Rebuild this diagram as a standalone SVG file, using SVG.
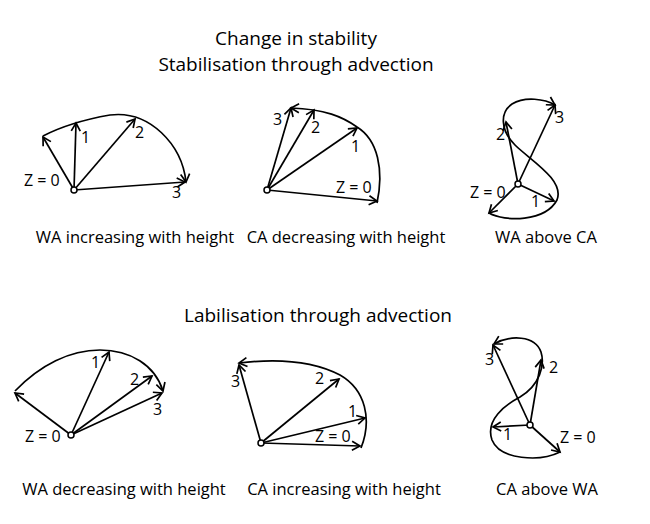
<svg xmlns="http://www.w3.org/2000/svg" width="650" height="524" viewBox="0 0 650 524">
<style>
.t{font-family:"Open Sans","Liberation Sans",sans-serif;fill:#000}
.title{font-size:19px;text-anchor:middle}
.cap{font-size:16.5px;text-anchor:middle}
.lab{font-size:16px}
.v{fill:none;stroke:#000;stroke-width:1.7;marker-end:url(#ah)}
.o{fill:#fff;stroke:#000;stroke-width:1.5}
</style>
<defs>
<marker id="ah" markerUnits="userSpaceOnUse" markerWidth="12" markerHeight="12" refX="9" refY="5" orient="auto" overflow="visible">
<path d="M1,0.5 L9,5 L1,9.5" fill="none" stroke="#000" stroke-width="1.7"/>
</marker>
</defs>
<rect width="650" height="524" fill="#fff"/>
<g id="titles">
<text class="t title" x="296" y="45">Change in stability</text>
<text class="t title" x="296" y="71">Stabilisation through advection</text>
<text class="t title" x="318" y="322">Labilisation through advection</text>
</g>
<g id="connectors">
<!-- D1 -->
<path class="v" d="M43,136 Q70,122 110,115 C150,110 182,145 186,182"/>
<line class="v" x1="74" y1="190" x2="43" y2="137"/>
<line class="v" x1="74" y1="190" x2="76" y2="123"/>
<line class="v" x1="74" y1="190" x2="135" y2="119"/>
<line class="v" x1="74" y1="190" x2="185" y2="182"/>
<!-- D2 -->
<path class="v" d="M377,203 C384,170 378,140 357,127 C343,117 325,109 291,108"/>
<line class="v" x1="267" y1="190" x2="377" y2="201"/>
<line class="v" x1="267" y1="190" x2="357" y2="128"/>
<line class="v" x1="267" y1="190" x2="314" y2="110"/>
<line class="v" x1="267" y1="190" x2="291" y2="108"/>
<!-- D3 -->
<path class="v" d="M489,213 C505,222 545,222 557,200 C565,180 530,160 515,145 C500,130 500,112 512,104 C525,96 545,99 555,105"/>
<line class="v" x1="518" y1="184" x2="489" y2="213"/>
<line class="v" x1="518" y1="184" x2="554" y2="201"/>
<line class="v" x1="518" y1="184" x2="506" y2="122"/>
<line class="v" x1="518" y1="184" x2="555" y2="105"/>
<!-- D4 -->
<path class="v" d="M15,391 C40,365 70,350 100,350 C130,350 155,365 163,391"/>
<line class="v" x1="71" y1="435" x2="15" y2="393"/>
<line class="v" x1="71" y1="435" x2="109" y2="352"/>
<line class="v" x1="71" y1="435" x2="152" y2="376"/>
<line class="v" x1="71" y1="435" x2="162" y2="393"/>
<!-- D5 -->
<path class="v" d="M361,448 C372,420 366,390 340,375 C315,362 280,358 239,363"/>
<line class="v" x1="261" y1="443" x2="360" y2="446"/>
<line class="v" x1="261" y1="443" x2="365" y2="418"/>
<line class="v" x1="261" y1="443" x2="339" y2="379"/>
<line class="v" x1="261" y1="443" x2="239" y2="365"/>
<!-- D6 -->
<path class="v" d="M560,452 C540,462 500,460 492,440 C485,420 505,405 520,397 C540,385 545,365 541,352 C535,335 510,335 494,344"/>
<line class="v" x1="530" y1="425" x2="560" y2="452"/>
<line class="v" x1="530" y1="425" x2="493" y2="427"/>
<line class="v" x1="530" y1="425" x2="541" y2="360"/>
<line class="v" x1="530" y1="425" x2="493" y2="345"/>
</g>
<g id="wa-increasing">
<circle class="o" cx="74" cy="190" r="3"/>
<text class="t lab" x="24" y="186">Z = 0</text>
<text class="t lab" x="81" y="143">1</text>
<text class="t lab" x="135" y="138">2</text>
<text class="t lab" x="172" y="198">3</text>
<text class="t cap" x="135" y="243">WA increasing with height</text>
</g>
<g id="ca-decreasing">
<circle class="o" cx="267" cy="190" r="3"/>
<text class="t lab" x="336" y="193">Z = 0</text>
<text class="t lab" x="351" y="152">1</text>
<text class="t lab" x="311" y="133">2</text>
<text class="t lab" x="273" y="125">3</text>
<text class="t cap" x="346" y="243">CA decreasing with height</text>
</g>
<g id="wa-above-ca">
<circle class="o" cx="518" cy="184" r="3"/>
<text class="t lab" x="470" y="198">Z = 0</text>
<text class="t lab" x="531" y="207">1</text>
<text class="t lab" x="496" y="140">2</text>
<text class="t lab" x="555" y="123">3</text>
<text class="t cap" x="546" y="243">WA above CA</text>
</g>
<g id="wa-decreasing">
<circle class="o" cx="71" cy="435" r="3"/>
<text class="t lab" x="25" y="442">Z = 0</text>
<text class="t lab" x="91" y="368">1</text>
<text class="t lab" x="130" y="385">2</text>
<text class="t lab" x="153" y="415">3</text>
<text class="t cap" x="124" y="495">WA decreasing with height</text>
</g>
<g id="ca-increasing">
<circle class="o" cx="261" cy="443" r="3"/>
<text class="t lab" x="315" y="442">Z = 0</text>
<text class="t lab" x="348" y="417">1</text>
<text class="t lab" x="315" y="384">2</text>
<text class="t lab" x="231" y="387">3</text>
<text class="t cap" x="344" y="495">CA increasing with height</text>
</g>
<g id="ca-above-wa">
<circle class="o" cx="530" cy="425" r="3"/>
<text class="t lab" x="560" y="443">Z = 0</text>
<text class="t lab" x="503" y="440">1</text>
<text class="t lab" x="549" y="373">2</text>
<text class="t lab" x="485" y="365">3</text>
<text class="t cap" x="547" y="495">CA above WA</text>
</g>
</svg>
